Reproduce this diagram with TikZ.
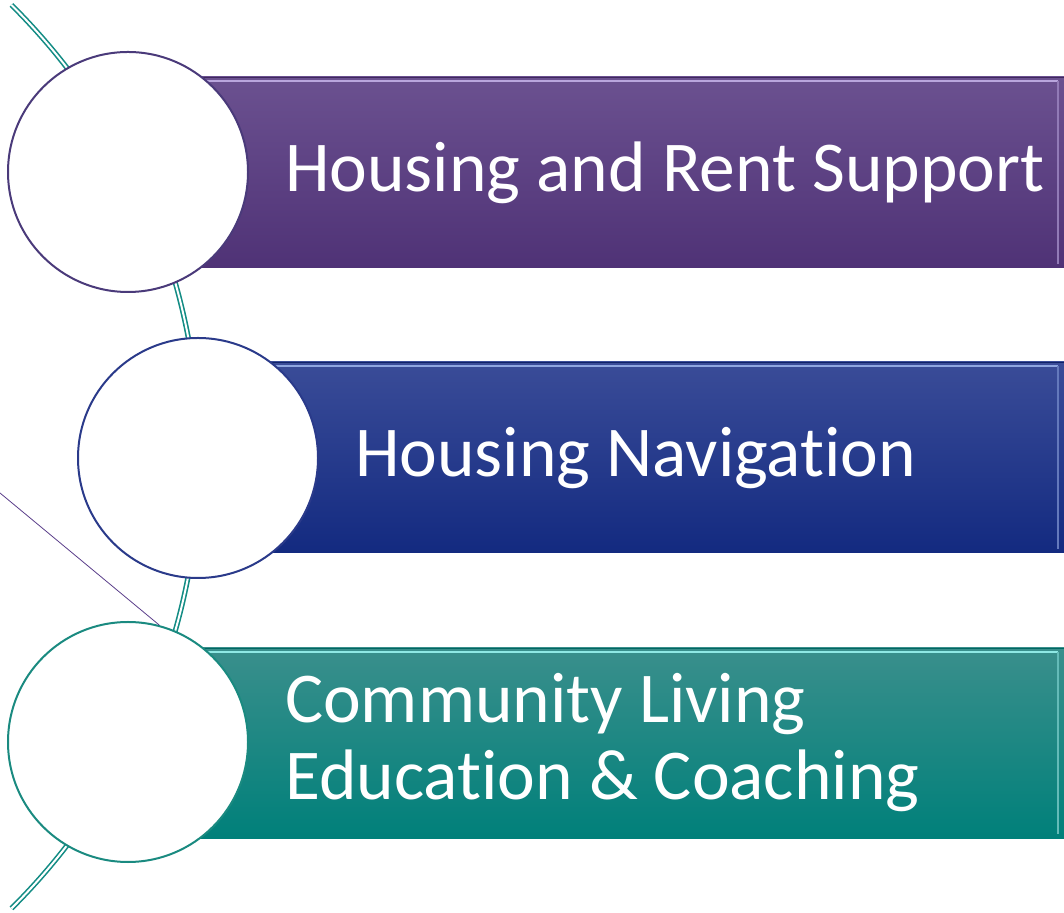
\documentclass[tikz,border=0pt]{standalone}
\usepackage{fontspec}
\setmainfont{Carlito}[Ligatures=NoCommon]
\usetikzlibrary{positioning}

\definecolor{plumtop}{HTML}{6B5190}
\definecolor{plumbot}{HTML}{4F3276}
\definecolor{plumhl}{HTML}{B9A6DD}
\definecolor{plumrim}{HTML}{4A3A7A}
\definecolor{navytop}{HTML}{3A4C98}
\definecolor{navybot}{HTML}{132A80}
\definecolor{navyhl}{HTML}{8FA6E0}
\definecolor{navyrim}{HTML}{2A3A8A}
\definecolor{tealtop}{HTML}{3A8F8C}
\definecolor{tealbot}{HTML}{00807A}
\definecolor{tealhl}{HTML}{8FE8E4}
\definecolor{tealrim}{HTML}{1A8A80}
\definecolor{arccol}{HTML}{138C84}
\definecolor{slash}{HTML}{5A3E8A}

\begin{document}
\begin{tikzpicture}[x=1pt,y=1pt]
        % Common styles
        \tikzstyle{disc}=[circle, draw, fill=white, line width=2pt, minimum size=240pt, inner sep=0pt]
        \tikzstyle{bartext}=[anchor=base west, inner sep=0pt, text=white, font=\fontsize{71.5}{77}\selectfont, align=left]
        \tikzstyle{spine}=[arccol, line width=1.6pt, double=white, double distance=2pt]

        \useasboundingbox (0,0) rectangle (1064,912);

        % --- Spine behind the circles ---
        \draw[spine] (11.5,907) arc[start angle=45.2, end angle=-45.2, radius=636.6];
        \coordinate (slashstart) at (0,419);

        % --- Bar 1: Housing and Rent Support ---
        \shade[top color=plumtop, bottom color=plumbot] (128,644) rectangle (1064,835);
        \draw[plumbot!80!black, line width=0.8pt] (128,835) -- (1064,835);
        \draw[plumhl, line width=2pt] (128,831) -- (1058,831);
        \draw[plumhl!50!plumtop, line width=1.5pt] (1058,831) -- (1058,648);
        \node[disc, draw=plumrim] (c1) at (128,740) {};
        \node[bartext] (t1) at (285,720) {Housing and Rent Support};

        % --- Bar 2: Housing Navigation ---
        \shade[top color=navytop, bottom color=navybot] (198,359) rectangle (1064,550);
        \draw[navybot!80!black, line width=0.8pt] (198,550) -- (1064,550);
        \draw[navyhl, line width=2pt] (198,546) -- (1058,546);
        \draw[navyhl!50!navytop, line width=1.5pt] (1058,546) -- (1058,363);
        \node[disc, draw=navyrim] (c2) at (198,454) {};
        \node[bartext] (t2) at (355,435) {Housing Navigation};

        % --- Bar 3: Community Living Education & Coaching ---
        \shade[top color=tealtop, bottom color=tealbot] (128,74) rectangle (1064,264);
        \draw[tealbot!80!black, line width=0.8pt] (128,264) -- (1064,264);
        \draw[tealhl, line width=2pt] (128,260) -- (1058,260);
        \draw[tealhl!50!tealtop, line width=1.5pt] (1058,260) -- (1058,78);
        \node[disc, draw=tealrim] (c3) at (128,170) {};
        \node[bartext] (t3) at (285,112) {Community Living\\Education \& Coaching};

        % thin line into the last circle
        \draw[slash, line width=0.8pt] (slashstart) -- (c3.75);

    \end{tikzpicture}
\end{document}
